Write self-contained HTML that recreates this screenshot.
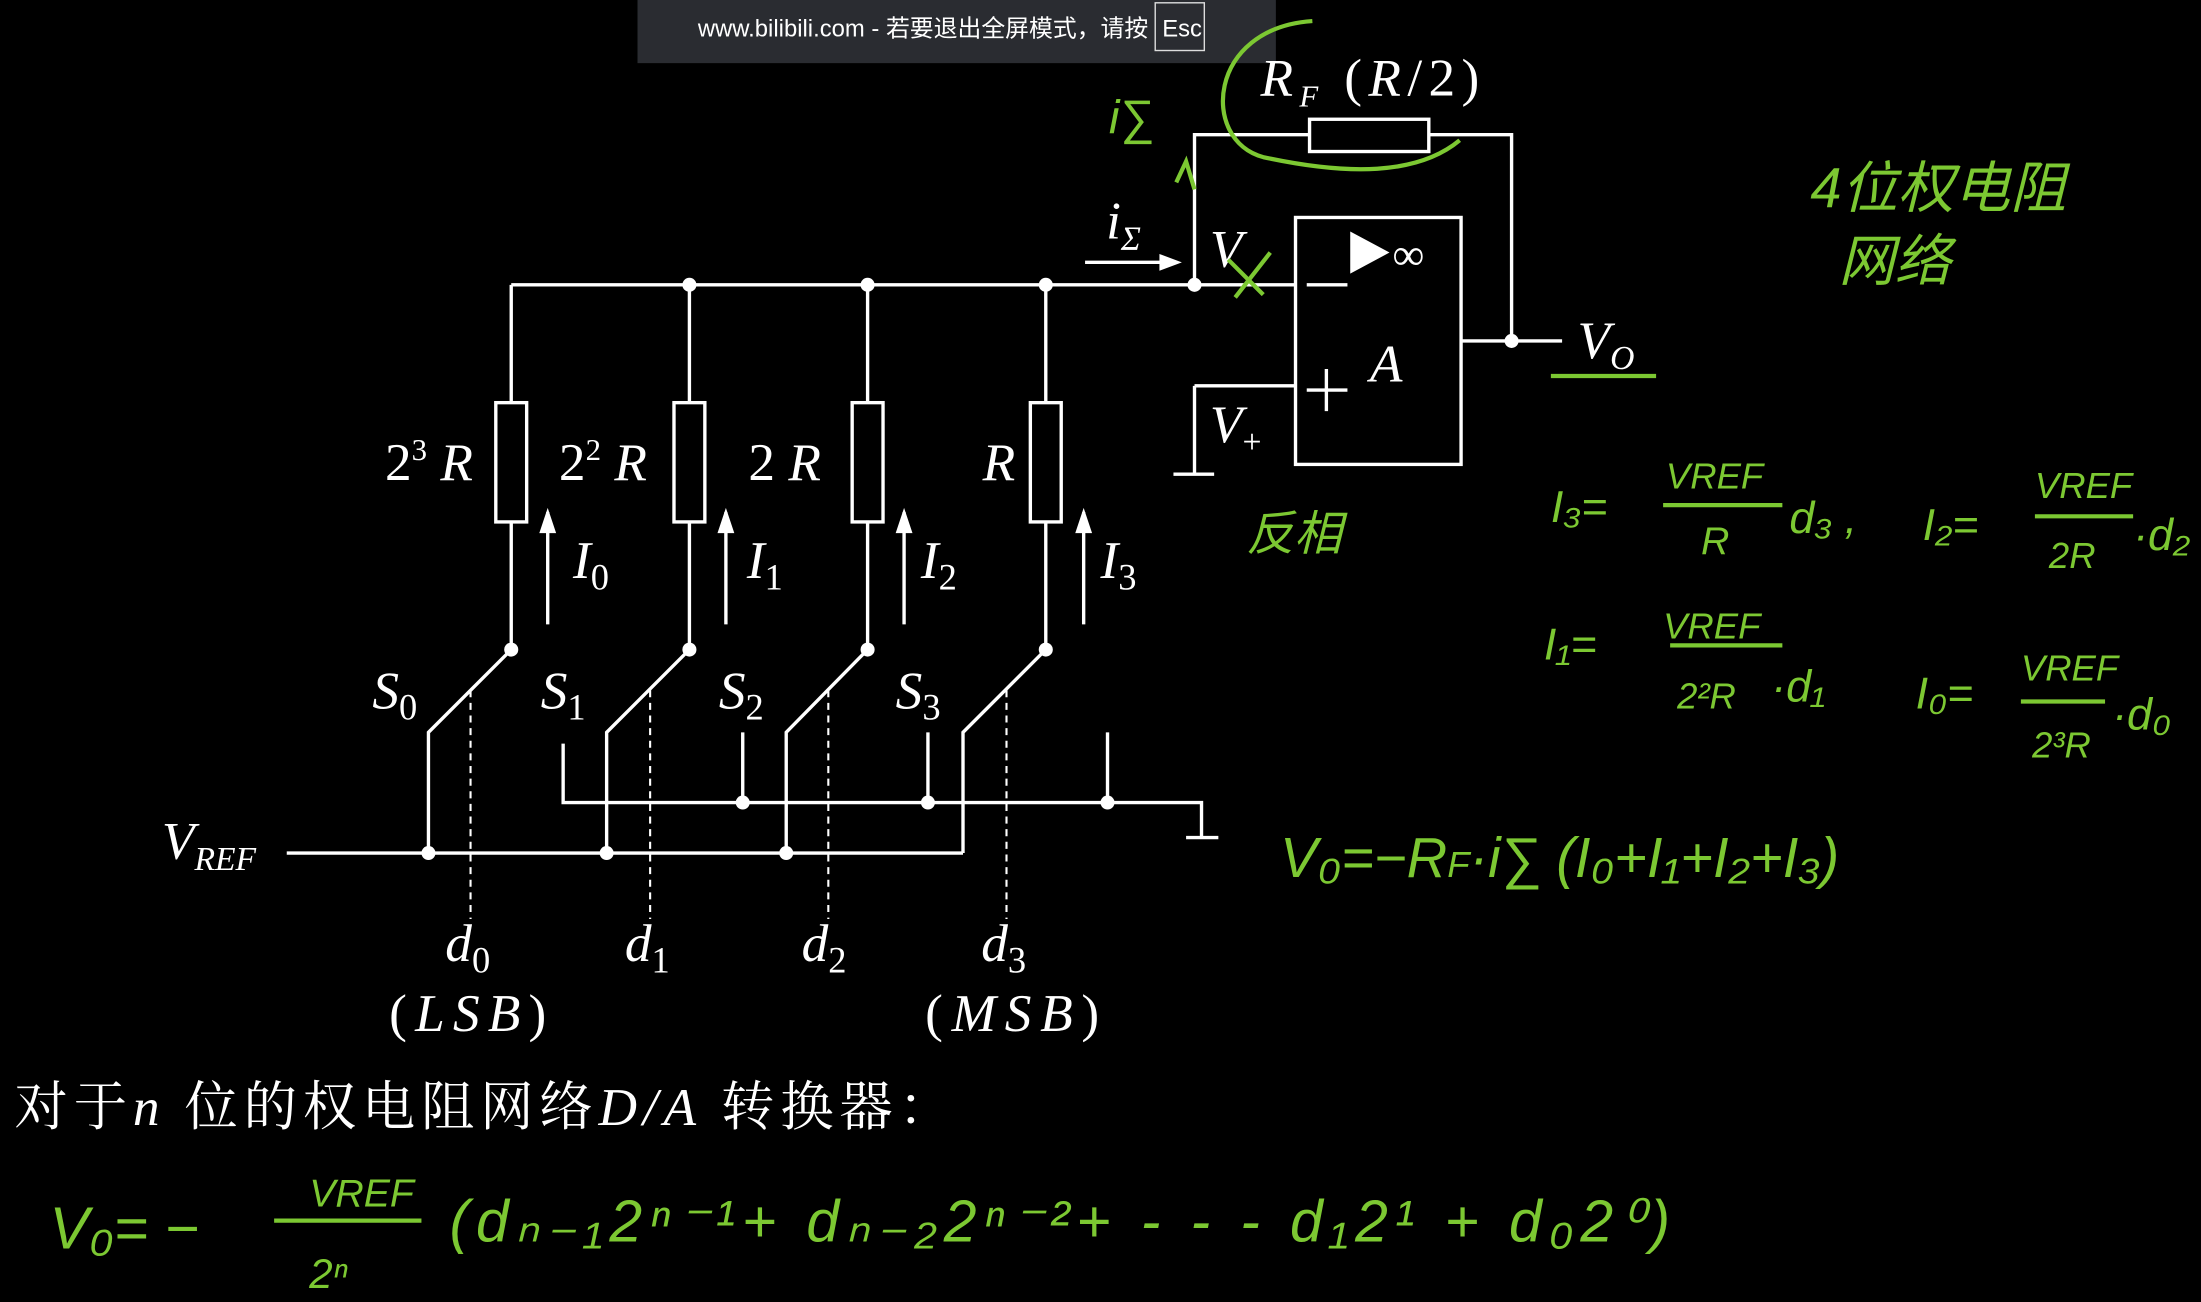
<!DOCTYPE html>
<html><head><meta charset="utf-8"><style>
html,body{margin:0;padding:0;background:#000;}
svg{display:block}
</style></head><body>
<svg width="2201" height="1302" viewBox="0 0 1568 928" xmlns="http://www.w3.org/2000/svg">
<rect width="1568" height="928" fill="#000"/>
<rect x="454" y="0" width="455" height="45" fill="#2a2c31"/>
<text x="497" y="26" fill="#fff" font-family="Liberation Sans, Noto Sans CJK SC, sans-serif" font-size="17">www.bilibili.com - 若要退出全屏模式，请按</text>
<rect x="823" y="2" width="35" height="34" fill="none" stroke="#ddd" stroke-width="1"/>
<text x="828" y="26" fill="#fff" font-family="Liberation Sans, sans-serif" font-size="17">Esc</text>
<g stroke="#fff" stroke-width="2.4" fill="none">
<path d="M364 203H923 M364 203V287 M364 372V463 M491 203V287 M491 372V463 M618 203V287 M618 372V463 M745 203V287 M745 372V463"/>
<rect x="353" y="287" width="22" height="85"/><rect x="480" y="287" width="22" height="85"/><rect x="607" y="287" width="22" height="85"/><rect x="734" y="287" width="22" height="85"/>
<path d="M364 463L305 522V608 M491 463L432 522V608 M618 463L560 522V608 M745 463L686 522V608 M204 608H686"/>
<path d="M401 530V572H856V597 M845 597H868 M529 522V572 M661 522V572 M789 522V572"/>
<path d="M851 203V96H933 M1018 96H1077V243 M1041 243H1113 M851 275H923 M851 275V338 M836 338H865"/>
<rect x="933" y="85" width="85" height="23"/>
<rect x="923" y="155" width="118" height="176"/>
<path d="M931 203H960 M931 278H960 M945 263V293"/>
<path d="M390 445V365 M517 445V365 M644 445V365 M772 445V365 M773 187H835"/>
</g>
<g stroke="#fff" stroke-width="1.5" stroke-dasharray="5,4"><path d="M335 492V655 M463 492V655 M590 492V655 M717 492V655"/></g>
<g fill="#fff"><path d="M384 380L390 362L396 380Z M511 380L517 362L523 380Z M638 380L644 362L650 380Z M766 380L772 362L778 380Z M826 181L842 187L826 193Z M962 165L990 180L962 195Z"/>
<circle cx="491" cy="203" r="5"/><circle cx="618" cy="203" r="5"/><circle cx="745" cy="203" r="5"/><circle cx="851" cy="203" r="5"/>
<circle cx="364" cy="463" r="5"/><circle cx="491" cy="463" r="5"/><circle cx="618" cy="463" r="5"/><circle cx="745" cy="463" r="5"/>
<circle cx="305" cy="608" r="5"/><circle cx="432" cy="608" r="5"/><circle cx="560" cy="608" r="5"/>
<circle cx="529" cy="572" r="5"/><circle cx="661" cy="572" r="5"/><circle cx="789" cy="572" r="5"/><circle cx="1077" cy="243" r="5"/>
</g>
<g fill="#fff" font-family="Liberation Serif, serif" font-size="38">
<text x="274" y="342">2<tspan font-size="22" dy="-14">3</tspan><tspan dy="14" font-style="italic"> R</tspan></text>
<text x="398" y="342">2<tspan font-size="22" dy="-14">2</tspan><tspan dy="14" font-style="italic"> R</tspan></text>
<text x="533" y="342">2 <tspan font-style="italic">R</tspan></text>
<text x="700" y="342" font-style="italic">R</text>
<text x="408" y="412" font-style="italic">I<tspan font-size="26" dy="8" font-style="normal">0</tspan></text>
<text x="532" y="412" font-style="italic">I<tspan font-size="26" dy="8" font-style="normal">1</tspan></text>
<text x="656" y="412" font-style="italic">I<tspan font-size="26" dy="8" font-style="normal">2</tspan></text>
<text x="784" y="412" font-style="italic">I<tspan font-size="26" dy="8" font-style="normal">3</tspan></text>
<text x="265" y="505" font-style="italic">S<tspan font-size="26" dy="8" font-style="normal">0</tspan></text>
<text x="385" y="505" font-style="italic">S<tspan font-size="26" dy="8" font-style="normal">1</tspan></text>
<text x="512" y="505" font-style="italic">S<tspan font-size="26" dy="8" font-style="normal">2</tspan></text>
<text x="638" y="505" font-style="italic">S<tspan font-size="26" dy="8" font-style="normal">3</tspan></text>
<text x="115" y="612" font-style="italic">V<tspan font-size="24" dy="8">REF</tspan></text>
<text x="317" y="685" font-style="italic">d<tspan font-size="26" dy="8" font-style="normal">0</tspan></text>
<text x="445" y="685" font-style="italic">d<tspan font-size="26" dy="8" font-style="normal">1</tspan></text>
<text x="571" y="685" font-style="italic">d<tspan font-size="26" dy="8" font-style="normal">2</tspan></text>
<text x="699" y="685" font-style="italic">d<tspan font-size="26" dy="8" font-style="normal">3</tspan></text>
<text x="277" y="735" textLength="112">(<tspan font-style="italic">LSB</tspan>)</text>
<text x="659" y="735" textLength="124">(<tspan font-style="italic">MSB</tspan>)</text>
<text x="788" y="170" font-style="italic">i<tspan font-size="24" dy="8">Σ</tspan></text>
<text x="862" y="190" font-style="italic">V</text>
<text x="862" y="315" font-style="italic">V<tspan font-size="24" dy="8" font-style="normal">+</tspan></text>
<text x="898" y="68" font-style="italic" textLength="156">R<tspan font-size="22" dy="8">F</tspan><tspan dy="-8" font-style="normal"> (</tspan>R<tspan font-style="normal">/2)</tspan></text>
<text x="1124" y="255" font-style="italic">V<tspan font-size="24" dy="8">O</tspan></text>
<text x="976" y="272" font-style="italic">A</text>
<text x="992" y="192" font-size="32">∞</text>
<text x="10" y="802" font-family="Liberation Serif, Noto Serif CJK SC, serif" font-size="38" textLength="668">对于<tspan font-style="italic">n</tspan> 位的权电阻网络<tspan font-style="italic">D/A</tspan> 转换器：</text>
</g>
<g fill="#7cc832" font-family="Liberation Sans, Noto Sans CJK SC, sans-serif" font-style="italic">
<text x="1290" y="148" font-size="40">4位权电阻</text>
<text x="1310" y="200" font-size="40">网络</text>
<text x="888" y="392" font-size="34">反相</text>
<text x="790" y="95" font-size="34">i∑</text>
<g font-size="32">
<text x="1105" y="372">I₃=</text>
<text x="1187" y="348" font-size="26">VREF</text><text x="1212" y="395" font-size="28">R</text>
<text x="1275" y="380">d₃ ,</text>
<text x="1370" y="385">I₂=</text>
<text x="1450" y="355" font-size="26">VREF</text><text x="1460" y="405" font-size="26">2R</text>
<text x="1520" y="392">·d₂</text>
<text x="1100" y="470">I₁=</text>
<text x="1185" y="455" font-size="26">VREF</text><text x="1195" y="505" font-size="26">2²R</text>
<text x="1262" y="500">·d₁</text>
<text x="1365" y="505">I₀=</text>
<text x="1440" y="485" font-size="26">VREF</text><text x="1448" y="540" font-size="26">2³R</text>
<text x="1505" y="520">·d₀</text>
</g>
<text x="912" y="625" font-size="40">V₀=−R<tspan font-size="26">F</tspan>·i∑ (I₀+I₁+I₂+I₃)</text>
<text x="35" y="890" font-size="42">V₀= −</text>
<text x="220" y="860" font-size="28">VREF</text>
<text x="220" y="918" font-size="30">2ⁿ</text>
<text x="320" y="885" font-size="42" textLength="870">(dₙ₋₁2ⁿ⁻¹+ dₙ₋₂2ⁿ⁻²+ - - - d₁2¹ + d₀2⁰)</text>
</g>
<g stroke="#7cc832" stroke-width="3" fill="none">
<path d="M935 15C860 20 855 100 900 112C960 125 1010 125 1040 100"/>
<path d="M851 135L845 115L838 130 M880 212L905 180 M875 185L900 210 M1105 268H1180"/>
<path d="M1185 360H1270 M1190 460H1270 M1440 500H1500 M1450 368H1520 M195 870H300"/>
</g>
</svg>
</body></html>
